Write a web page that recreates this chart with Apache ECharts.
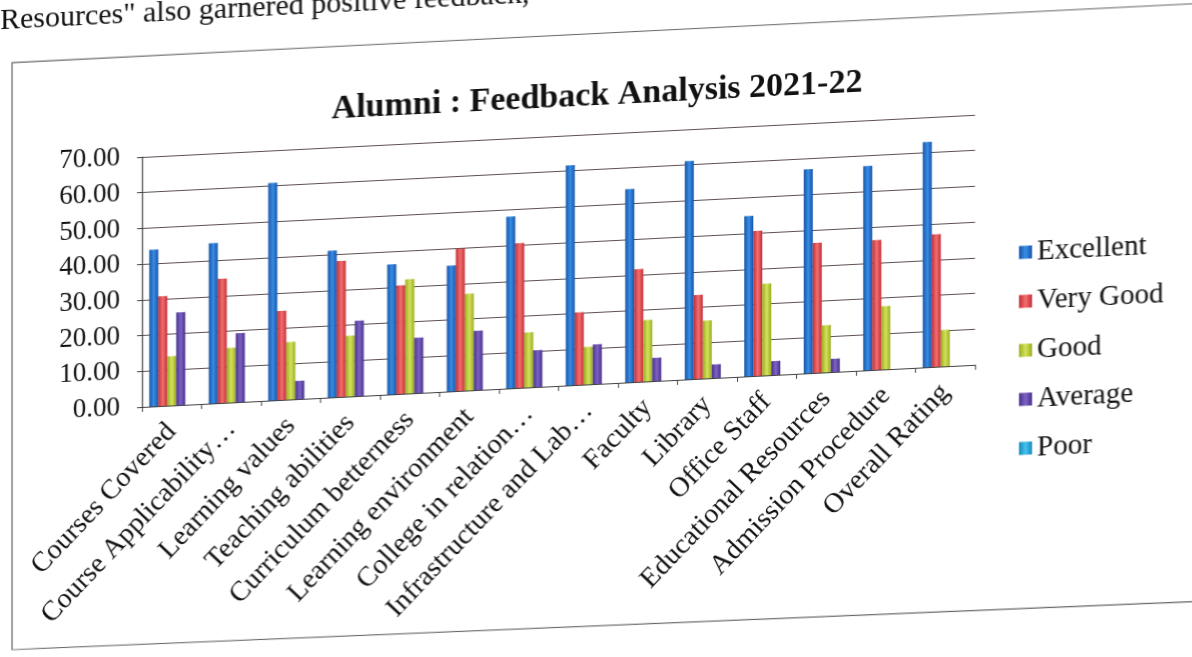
<!DOCTYPE html>
<html>
<head>
<meta charset="utf-8">
<title>Alumni : Feedback Analysis 2021-22</title>
<script src="https://cdn.jsdelivr.net/npm/echarts@6/dist/echarts.min.js"></script>
<style>
  html, body { margin: 0; padding: 0; background: #fff; overflow: hidden; }
  /* the photographed page leans up to the right */
  #chart { width: 1192px; height: 657px; transform: skewY(-2.9deg); transform-origin: 142px 0; }
</style>
</head>
<body>
<div id="chart"></div>
<script>
const categories = [
  "Courses Covered", "Course Applicability\u2026", "Learning values", "Teaching abilities",
  "Curriculum betterness", "Learning environment", "College in relation\u2026",
  "Infrastructure and Lab\u2026", "Faculty", "Library", "Office Staff",
  "Educational Resources", "Admission Procedure", "Overall Rating"
];
const seriesNames = ["Excellent", "Very Good", "Good", "Average", "Poor"];
const excellent = [43.9, 44.9, 60.9, 41.1, 36.4, 35.2, 48.1, 61.6, 54.1, 61.1, 44.9, 57.1, 57.2, 63.1];
const veryGood  = [30.7, 34.8, 24.9, 38.1, 30.4, 39.8, 40.5, 20.3, 31.6, 23.5, 40.6, 36.4, 36.3, 37.1];
const good      = [13.8, 15.3, 16.1, 17.0, 32.0, 27.1, 15.4, 10.5, 17.2, 16.2, 25.7, 13.2, 17.7, 10.2];
const average   = [26.0, 19.3, 5.1, 21.1, 15.5, 16.6, 10.3, 11.1, 6.5, 3.8, 3.9, 3.7, 0, 0];
const poor      = [0, 0, 0, 0, 0, 0, 0, 0, 0, 0, 0, 0, 0, 0];
const yTicks = { min: 0, max: 70, interval: 10 };

const serif = "Liberation Serif";
// edge, middle colours for each series (bevelled Excel look)
const palette = [
  ["#1553a8", "#3a8ee6"],
  ["#c42d36", "#f27070"],
  ["#98ad1e", "#d6e25e"],
  ["#45308c", "#8063c4"],
  ["#1689bc", "#46c4ec"]
];

function barColor(i) {
  return new echarts.graphic.LinearGradient(0, 0, 1, 0, [
    { offset: 0, color: palette[i][0] },
    { offset: 0.5, color: palette[i][1] },
    { offset: 1, color: palette[i][0] }
  ]);
}

const values = [excellent, veryGood, good, average, poor];
const series = seriesNames.map((name, i) => ({
  name,
  type: "bar",
  data: values[i],
  barWidth: 9,
  barGap: "0%",
  itemStyle: { color: barColor(i) }
}));

const myEchart = echarts.init(document.getElementById("chart"), null, { renderer: "canvas" });
myEchart.setOption({
  animation: false,
  backgroundColor: "#fff",
  title: {
    text: "Alumni : Feedback Analysis 2021-22",
    left: 592,
    textAlign: "center",
    top: 97,
    textStyle: { fontFamily: serif, fontSize: 34, fontWeight: "bold", color: "#111" }
  },
  graphic: [
    {
      type: "text", left: 0, top: -1,
      style: { text: "Resources\" also garnered positive feedback,", fontFamily: serif, fontSize: 30, fill: "#111" }
    },
    {
      type: "polyline",
      shape: { points: [[1200, 655], [12, 643], [12, 56], [1200, 57]] },
      style: { stroke: "#666", lineWidth: 1.2, fill: null }
    }
  ],
  legend: {
    orient: "vertical",
    left: 1014,
    top: 277,
    itemWidth: 13,
    itemHeight: 13,
    itemGap: 19,
    icon: "rect",
    textStyle: { fontFamily: serif, fontSize: 29, lineHeight: 30, color: "#111" },
    data: seriesNames
  },
  grid: { left: 142, right: 217, top: 157, bottom: 250, containLabel: false },
  xAxis: {
    type: "category",
    data: categories,
    axisLine: { lineStyle: { color: "#444", width: 1.2 } },
    axisTick: { show: true, length: 5, lineStyle: { color: "#444" } },
    axisLabel: { rotate: 45, margin: 22, interval: 0, fontFamily: serif, fontSize: 28, color: "#111" }
  },
  yAxis: {
    type: "value",
    min: yTicks.min,
    max: yTicks.max,
    interval: yTicks.interval,
    axisLine: { show: true, lineStyle: { color: "#444", width: 1.2 } },
    axisTick: { show: true, length: 5, lineStyle: { color: "#444" } },
    splitLine: { lineStyle: { color: "#5e5050", width: 1.2 } },
    axisLabel: {
      margin: 22,
      fontFamily: serif,
      fontSize: 27,
      color: "#111",
      formatter: v => v.toFixed(2)
    }
  },
  series
});
</script>
</body>
</html>
